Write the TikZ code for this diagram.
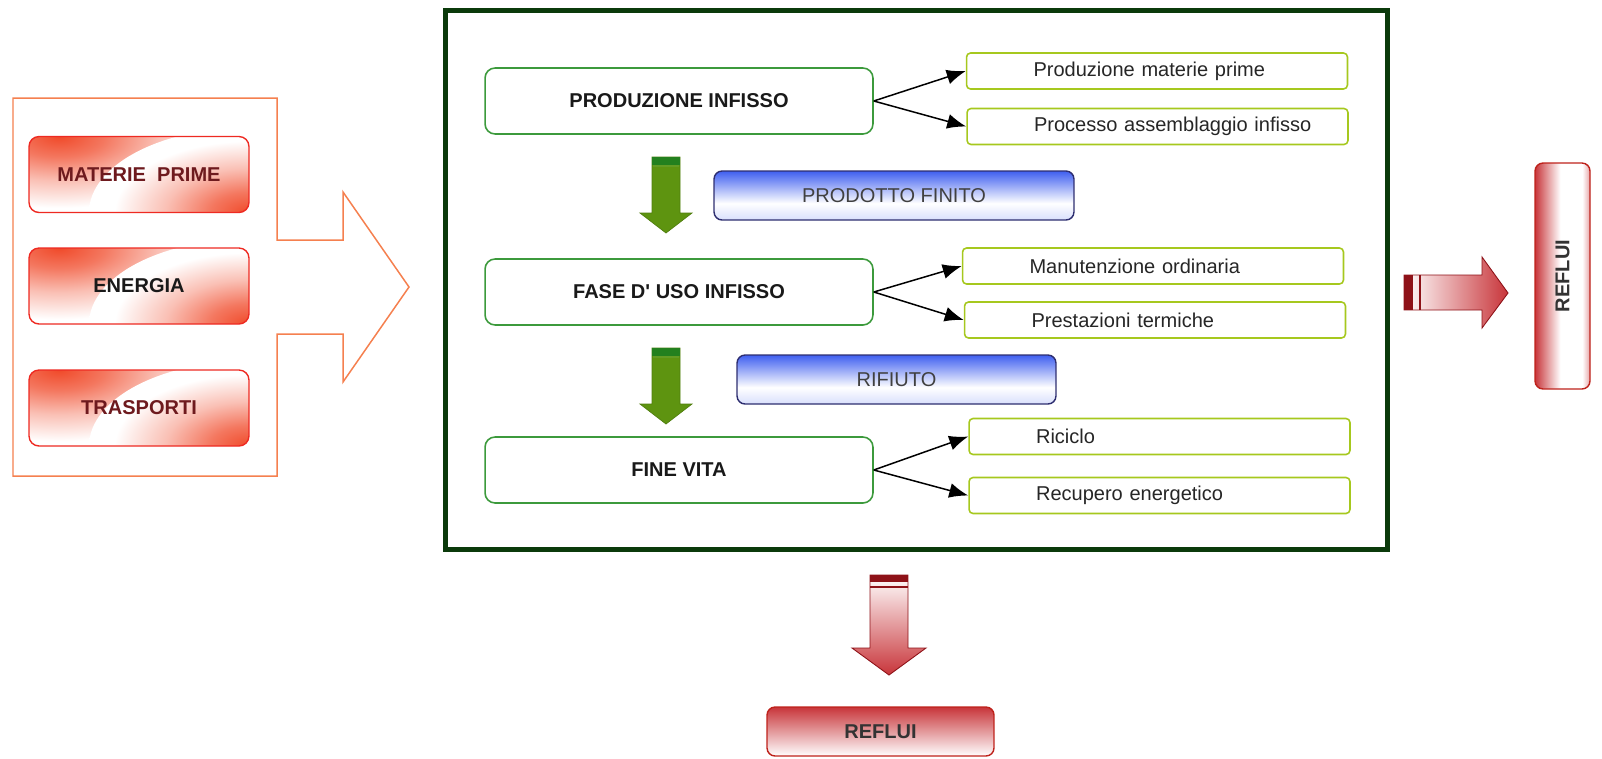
\documentclass[tikz,border=0pt]{standalone}
\usepackage{fontspec}
\setmainfont{Liberation Sans}
\usetikzlibrary{positioning,
        shapes,
        arrows.meta}
\usepackage{xcolor}

\definecolor{framegreen}{HTML}{0B3A0B}
\definecolor{boxgreen}{HTML}{3C9A3C}
\definecolor{subgreen}{HTML}{A6C81E}
\definecolor{inorange}{HTML}{F5804F}
\definecolor{boxred}{HTML}{EE2A22}
\definecolor{glowred}{HTML}{F04A2A}
\definecolor{textred}{HTML}{6E1A1E}
\definecolor{blueline}{HTML}{2E2E70}
\definecolor{bluefill}{HTML}{3F5FF0}
\definecolor{arrowred}{HTML}{C8353A}
\definecolor{capred}{HTML}{8E1218}
\definecolor{oliveA}{HTML}{5E9410}
\definecolor{oliveB}{HTML}{C4C62E}
\definecolor{capgreen}{HTML}{23801E}

\pgfdeclareradialshading{cornerglow}{\pgfpointorigin}{color(0bp)=(glowred); color(6bp)=(glowred!75); color(13bp)=(glowred!35); color(21bp)=(white); color(50bp)=(white)}
\pgfdeclarehorizontalshading{redside}{100bp}{color(0bp)=(arrowred); color(25bp)=(arrowred); color(48bp)=(white); color(68bp)=(white); color(75bp)=(arrowred!45); color(100bp)=(arrowred!45)}
\pgfdeclareverticalshading{blueglow}{100bp}{color(0bp)=(bluefill!20); color(25bp)=(bluefill!20); color(42bp)=(white); color(75bp)=(bluefill); color(100bp)=(bluefill)}

\tikzset{
  txt/.style={font=\fontsize{11.4}{13}\selectfont},
  bold/.style={font=\fontsize{11.4}{13}\selectfont\bfseries},
  inbox/.style={bold, draw=boxred, line width=0.8pt, rounded corners=0.2cm, fill=white,
    minimum width=4.4cm, minimum height=1.52cm,
    path picture={
      \shade [shading=cornerglow] (path picture bounding box.north west)
          ellipse [x radius=3.2cm, y radius=1.7cm];
      \shade [shading=cornerglow] (path picture bounding box.south east)
          ellipse [x radius=3.2cm, y radius=1.7cm];
    }},
  phase/.style={bold, text=black!90, draw=boxgreen, line width=0.9pt, fill=white,
    rounded corners=0.2cm, minimum width=7.76cm, minimum height=1.32cm},
  subbox/.style={txt, text=black!85, draw=subgreen, line width=0.9pt, fill=white,
    rounded corners=0.08cm, text width=7.42cm, inner xsep=0.1cm, align=left,
    minimum height=0.72cm, execute at begin node={\hspace*{1.24cm}}},
  product/.style={txt, text=black!75, draw=blueline, line width=0.8pt,
    rounded corners=0.16cm, shading=blueglow, minimum height=0.98cm},
  outbox/.style={bold, text=black!80, draw=boxred!80!black, line width=0.8pt,
    rounded corners=0.16cm},
  flow/.style={-{Latex[length=0.38cm,width=0.3cm]}, line width=0.03cm, black}
}

\begin{document}
\begin{tikzpicture}[x=0.02cm, y=-0.02cm]
            \useasboundingbox (0,0) rectangle (1602,758);

            % input
            \draw [inorange, line width=0.03cm] (13,98) -- (277,98) -- (277,240) -- (343,240) -- (343,192)
                -- (409,287) -- (343,382) -- (343,334) -- (277,334) -- (277,476) -- (13,476) -- cycle;
            \node [inbox, text=textred] (materie) at (139,174.5) {MATERIE~~PRIME};
            \node [inbox, text=black!90] (energia) at (139,286) {ENERGIA};
            \node [inbox, text=textred] (trasporti) at (139,408) {TRASPORTI};

            % ciclo di vita
            \draw [framegreen, line width=0.1cm] (445,10) rectangle (1387,549);

            \node [phase] (produzione) at (679,101) {PRODUZIONE INFISSO};
            \node [phase] (uso) at (679,292) {FASE D\textquotesingle\ USO INFISSO};
            \node [phase] (fine) at (679,470) {FINE VITA};

            \node [subbox] (prodmat) at (1157,71) {Produzione materie prime};
            \node [subbox] (assembl) at (1157.5,126.5) {Processo assemblaggio infisso};
            \node [subbox] (manut) at (1153,266) {Manutenzione ordinaria};
            \node [subbox] (prest) at (1155,320) {Prestazioni termiche};
            \node [subbox] (riciclo) at (1159.5,436.5) {Riciclo};
            \node [subbox] (recupero) at (1159.5,495.5) {Recupero energetico};

            \draw [flow] (produzione.east) -- (prodmat.west);
            \draw [flow] (produzione.east) -- (assembl.west);
            \draw [flow] (uso.east) -- (manut.west);
            \draw [flow] (uso.east) -- (prest.west);
            \draw [flow] (fine.east) -- (riciclo.west);
            \draw [flow] (fine.east) -- (recupero.west);

            \node [product, minimum width=7.2cm] (finito) at (894,195.5) {PRODOTTO FINITO};
            \node [product, minimum width=6.38cm] (rifiuto) at (896.5,379.5) {RIFIUTO};

            \foreach \ty in {157,348} {
                \shadedraw [left color=oliveA, middle color=oliveB, right color=oliveA,
                    draw=oliveA!85!black, line width=0.4pt]
                    (652,\ty) -- (680,\ty) -- (680,\ty+56) -- (692,\ty+56) -- (666,\ty+76)
                    -- (640,\ty+56) -- (652,\ty+56) -- cycle;
                \fill [capgreen] (652,\ty) rectangle (680,\ty+8);
                \fill [capgreen!60!oliveB] (653,\ty+8) rectangle (679,\ty+10);
            }

            % output
            \shadedraw [left color=white, right color=arrowred, draw=capred, line width=0.5pt]
                (1404,275) -- (1482,275) -- (1482,257) -- (1508,293) -- (1482,328) -- (1482,310)
                -- (1404,310) -- cycle;
            \fill [capred] (1404,275) rectangle (1413,310);
            \draw [capred, line width=0.8pt] (1420,275) -- (1420,310);
            \node [outbox, rotate=90, shading=redside, minimum width=4.52cm,
                minimum height=1.1cm] (refluiA) at (1562.5,276) {REFLUI};

            \shadedraw [top color=white, bottom color=arrowred, draw=capred, line width=0.5pt]
                (870,575) -- (908,575) -- (908,648) -- (926,648) -- (889,675) -- (852,648)
                -- (870,648) -- cycle;
            \fill [capred] (870,575) rectangle (908,582);
            \draw [capred, line width=0.8pt] (870,587) -- (908,587);
            \node [outbox, top color=arrowred, bottom color=white, minimum width=4.54cm,
                minimum height=0.98cm] (refluiB) at (880.5,731.5) {REFLUI};
        \end{tikzpicture}
\end{document}
